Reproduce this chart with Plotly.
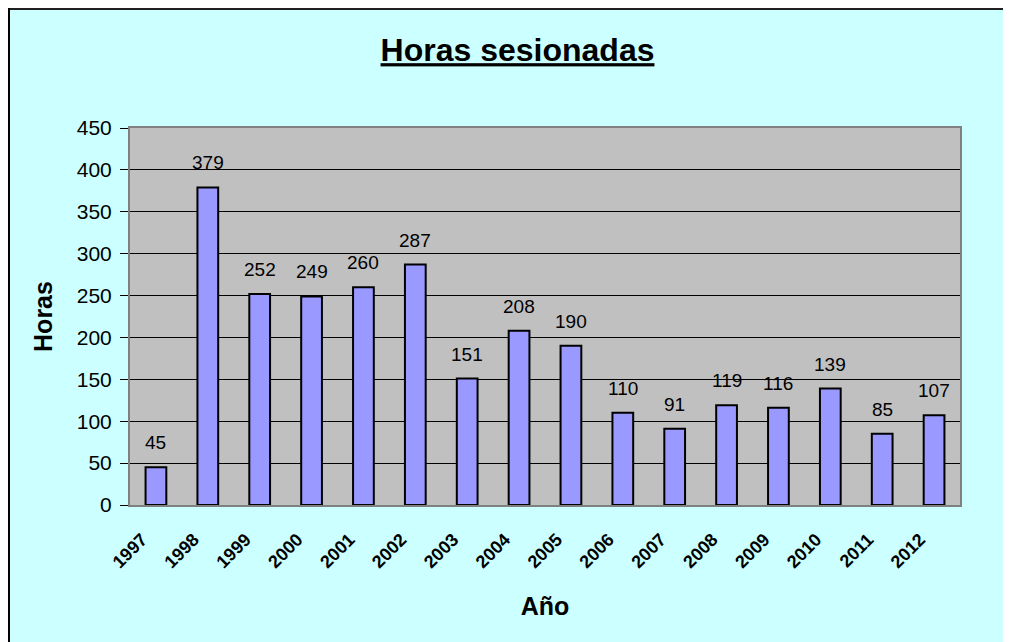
import plotly.graph_objects as go

years = ["1997", "1998", "1999", "2000", "2001", "2002", "2003", "2004",
         "2005", "2006", "2007", "2008", "2009", "2010", "2011", "2012"]
hours = [45, 379, 252, 249, 260, 287, 151, 208, 190, 110, 91, 119, 116, 139, 85, 107]
y_ticks = [0, 50, 100, 150, 200, 250, 300, 350, 400, 450]

W, H = 1003, 634
ML, MR, MT, MB = 122, 51, 120, 137
PW, PH = W - ML - MR, H - MT - MB


def px_x(px):
    return (px - ML) / PW


def px_y(py):
    return (H - MB - py) / PH


pos = list(range(len(years)))
label_shift = -0.27
label_pos = [p + label_shift for p in pos]
bounds = [p - 0.5 for p in pos] + [pos[-1] + 0.5]

FONT = "Liberation Sans, Arial"

fig = go.Figure()
fig.add_trace(go.Bar(
    x=pos, y=hours, width=0.4,
    marker=dict(color="#9999FF", line=dict(color="black", width=2)),
    hoverinfo="x+y", showlegend=False,
))

annotations = []
for p, v in zip(pos, hours):
    annotations.append(dict(
        x=p, y=v, xref="x", yref="y", text=str(v), showarrow=False,
        yanchor="bottom", yshift=12,
        font=dict(family=FONT, size=19, color="black"),
    ))

fig.update_layout(
    width=W, height=H,
    margin=dict(l=ML, r=MR, t=MT, b=MB, pad=0),
    paper_bgcolor="#CCFFFF",
    plot_bgcolor="#C0C0C0",
    title=dict(
        text="<b><u>Horas sesionadas</u></b>",
        x=0.508, xanchor="center", y=1 - 42 / H, yanchor="middle",
        font=dict(family=FONT, size=32, color="black"),
    ),
    xaxis=dict(
        range=[-0.5, pos[-1] + 0.5],
        tickmode="array", tickvals=label_pos, ticktext=years,
        tickangle=-45, ticks="", showgrid=False, zeroline=False,
        showline=True, linecolor="#808080", linewidth=2, mirror=True,
        tickfont=dict(family=FONT, size=18, color="black", weight="bold"),
        ticklabelstandoff=15,
        title=dict(text="<b>Año</b>", standoff=26,
                   font=dict(family=FONT, size=25, color="black")),
    ),
    xaxis2=dict(
        overlaying="x", anchor="y", side="bottom",
        range=[-0.5, pos[-1] + 0.5],
        tickmode="array", tickvals=bounds, showticklabels=False,
        ticks="outside", ticklen=7, tickwidth=1, tickcolor="black",
        showgrid=False, zeroline=False,
        showline=True, linecolor="black", linewidth=1,
    ),
    yaxis=dict(
        range=[0, 450], tickmode="array", tickvals=y_ticks,
        ticks="outside", ticklen=8, tickwidth=1, tickcolor="black",
        showgrid=True, gridcolor="black", gridwidth=1, zeroline=False,
        showline=True, linecolor="#808080", linewidth=2, mirror=True,
        tickfont=dict(family=FONT, size=21, color="black"),
        ticklabelstandoff=4,
        title=dict(text="<b>Horas</b>", standoff=17,
                   font=dict(family=FONT, size=25, color="black")),
    ),
    annotations=annotations,
    bargap=0.6,
    shapes=[
        dict(type="line", xref="paper", yref="paper",
             x0=px_x(0), x1=px_x(W), y0=px_y(1), y1=px_y(1),
             line=dict(color="#202020", width=2)),
        dict(type="line", xref="paper", yref="paper",
             x0=px_x(1), x1=px_x(1), y0=px_y(H), y1=px_y(0),
             line=dict(color="black", width=2)),
    ],
)

fig.write_html(
    "out.html",
    post_script="document.documentElement.style.overflow='hidden';"
                "document.body.style.overflow='hidden';",
)
